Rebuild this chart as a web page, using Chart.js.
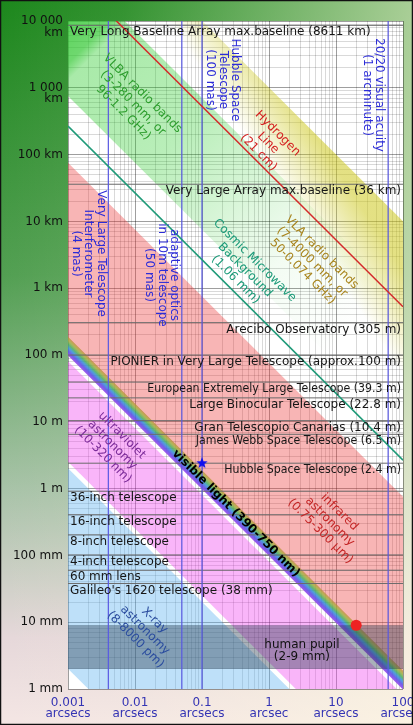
<!DOCTYPE html>
<html>
<head>
<meta charset="utf-8">
<script src="https://cdn.jsdelivr.net/npm/chart.js@4.4.1/dist/chart.umd.min.js"></script>
<style>
  html, body { margin: 0; padding: 0; background: #fff; }
  canvas { display: block; }
</style>
</head>
<body>
<canvas id="c" width="413" height="725"></canvas>
<script>
// ---- Axes: angular resolution (arcseconds) vs aperture diameter (metres) ----
const xDecades = [0.001, 0.01, 0.1, 1, 10, 100];
const xTickLabels = [['0.001', 'arcsecs'], ['0.01', 'arcsecs'], ['0.1', 'arcsecs'], ['1', 'arcsec'], ['10', 'arcsecs'], ['100', 'arcsecs']];
const yDecades = [1e-3, 1e-2, 1e-1, 1, 10, 100, 1e3, 1e4, 1e5, 1e6, 1e7];
const yTickLabels = ['1 mm', '10 mm', '100 mm', '1 m', '10 m', '100 m', '1 km', '10 km', '100 km', ['', '1 000', 'km'], ['', '10 000', 'km']];

// ---- Wavelength bands (metres) ----
const bandNames = ['VLA radio', 'VLBA radio', 'infrared', 'visible', 'ultraviolet', 'X-ray'];
const bandShort = [7e-3, 3e-3, 0.75e-6, 390e-9, 10e-9, 8e-12];
const bandLong = [4000e-3, 280e-3, 300e-6, 750e-9, 320e-9, 8000e-12];

// ---- Single wavelengths (metres) ----
const lineNames = ['Hydrogen line', 'Cosmic Microwave Background'];
const lineWavelengths = [0.21, 1.06e-3];

// ---- Instrument apertures / baselines (metres) ----
const apertureNames = [
  'Very Long Baseline Array max.baseline (8611 km)',
  'Very Large Array max.baseline (36 km)',
  'Arecibo Observatory (305 m)',
  'PIONIER in Very Large Telescope (approx.100 m)',
  'European Extremely Large Telescope (39.3 m)',
  'Large Binocular Telescope (22.8 m)',
  'Gran Telescopio Canarias (10.4 m)',
  'James Webb Space Telescope (6.5 m)',
  'Hubble Space Telescope (2.4 m)',
  '36-inch telescope',
  '16-inch telescope',
  '8-inch telescope',
  '4-inch telescope',
  '60 mm lens',
  "Galileo's 1620 telescope (38 mm)"
];
const apertureDiameters = [8611e3, 36e3, 305, 100, 39.3, 22.8, 10.4, 6.5, 2.4, 0.9144, 0.4064, 0.2032, 0.1016, 0.060, 0.038];
const apertureLeftAligned = [true, false, false, false, false, false, false, false, false, true, true, true, true, true, true];
const apertureCondensed = [false, false, false, false, true, false, false, true, true, false, false, false, false, false, false];

// ---- Angular resolutions (arcseconds) ----
const resolutionNames = [
  ['Very Large Telescope', 'Interferometer', '(4 mas)'],
  ['adaptive optics', 'in 10m telescope', '(50 mas)'],
  ['Hubble Space', 'Telescope', '(100 mas)'],
  ['20/20 visual acuity', '(1 arcminute)']
];
const resolutionValues = [0.004, 0.05, 0.1, 60];

// ---- Human pupil (metres) ----
const pupilRange = [0.002, 0.009];

// ---- Marked points: Hubble (0.1", 2.4 m), eye (20", 9 mm) ----
const hubblePoint = [{ x: 0.1, y: 2.4 }];
const eyePoint = [{ x: 20, y: 0.009 }];

// Rayleigh criterion: theta[arcsec] = 1.22 * lambda / D * 206265
const K = 1.22 * 206264.806;
const thetaMin = 0.001, thetaMax = 100;
const dMin = 1e-3, dMax = 1e7;

function edge(lambda) {
  return [{ x: thetaMin, y: K * lambda / thetaMin }, { x: thetaMax, y: K * lambda / thetaMax }];
}
function decadeTicks(lo, hi) {
  const t = [];
  for (let e = lo; e < hi; e++) for (let m = 1; m <= 9; m++) t.push({ value: m * Math.pow(10, e) });
  t.push({ value: Math.pow(10, hi) });
  return t;
}
function isDecade(v) {
  const l = Math.log10(v);
  return Math.abs(l - Math.round(l)) < 1e-6;
}
function labelFor(v, decades, labels) {
  for (let i = 0; i < decades.length; i++) {
    if (Math.abs(Math.log10(v) - Math.log10(decades[i])) < 1e-6) return labels[i];
  }
  return '';
}

// Five-point star marker
function makeStar(r, color) {
  const s = Math.ceil(r * 2 + 2);
  const c = document.createElement('canvas');
  c.width = c.height = s;
  const g = c.getContext('2d');
  g.fillStyle = color;
  g.beginPath();
  for (let i = 0; i < 10; i++) {
    const rad = i % 2 ? r * 0.42 : r;
    const a = -Math.PI / 2 + i * Math.PI / 5;
    g.lineTo(s / 2 + rad * Math.cos(a), s / 2 + rad * Math.sin(a));
  }
  g.closePath();
  g.fill();
  return c;
}

function px(chart, x, y) {
  return { x: chart.scales.x.getPixelForValue(x), y: chart.scales.y.getPixelForValue(y) };
}
function bandAngle(chart) {
  const a = px(chart, 1, 1), b = px(chart, 10, 0.1);
  return Math.atan2(b.y - a.y, b.x - a.x);
}

// ---- Fill styles for the bands ----
function vlaFill(ctx) {
  const chart = ctx.chart;
  if (!chart.chartArea) return 'rgba(0,0,0,0)';
  const p0 = px(chart, 0.93, 5.9e4), p1 = px(chart, 5.0, 1.8e5);
  const g = chart.ctx.createLinearGradient(p0.x, p0.y, p1.x, p1.y);
  g.addColorStop(0, 'rgba(205,200,30,0)');
  g.addColorStop(1, 'rgba(205,200,30,0.55)');
  return g;
}
function vlbaFill(ctx) {
  const chart = ctx.chart;
  if (!chart.chartArea) return 'rgba(0,0,0,0)';
  const p0 = px(chart, thetaMin, dMax);
  const a = bandAngle(chart);
  const L = 420;
  const g = chart.ctx.createLinearGradient(p0.x, p0.y, p0.x + L * Math.cos(a), p0.y + L * Math.sin(a));
  g.addColorStop(0, 'rgba(50,200,50,0.80)');
  g.addColorStop(30 / L, 'rgba(50,200,50,0.70)');
  g.addColorStop(42 / L, 'rgba(50,205,50,0.42)');
  g.addColorStop(160 / L, 'rgba(50,205,50,0.34)');
  g.addColorStop(320 / L, 'rgba(50,205,50,0.06)');
  g.addColorStop(1, 'rgba(50,205,50,0)');
  return g;
}
function visibleFill(ctx) {
  const chart = ctx.chart;
  if (!chart.chartArea) return 'rgba(0,0,0,0)';
  const lo = px(chart, 1, K * bandShort[3] / 1), hi = px(chart, 1, K * bandLong[3] / 1);
  const a = bandAngle(chart);
  const d = { x: Math.cos(a), y: Math.sin(a) };
  const v = { x: hi.x - lo.x, y: hi.y - lo.y };
  const dot = v.x * d.x + v.y * d.y;
  const perp = { x: v.x - dot * d.x, y: v.y - dot * d.y };
  const g = chart.ctx.createLinearGradient(lo.x, lo.y, lo.x + perp.x, lo.y + perp.y);
  g.addColorStop(0, 'rgba(160,80,235,0.95)');
  g.addColorStop(0.22, 'rgba(95,80,230,0.9)');
  g.addColorStop(0.42, 'rgba(50,140,215,0.85)');
  g.addColorStop(0.6, 'rgba(70,170,90,0.85)');
  g.addColorStop(0.8, 'rgba(160,170,60,0.85)');
  g.addColorStop(1, 'rgba(200,130,60,0.85)');
  return g;
}
const bandFills = [vlaFill, vlbaFill, 'rgba(236,60,60,0.38)', visibleFill, 'rgba(240,70,240,0.40)', 'rgba(100,180,240,0.42)'];

const lineColors = ['#d42a2a', '#1f9a78'];

// ---- Datasets ----
const datasets = [];
const hidden = 'rgba(0,0,0,0)';
datasets.push({ data: eyePoint, showLine: false, pointRadius: 5.5, pointHoverRadius: 5.5, pointBackgroundColor: '#ee2222', pointBorderWidth: 0, order: 0 });
datasets.push({ data: hubblePoint, showLine: false, pointStyle: makeStar(6, '#1010ee'), pointRadius: 6, order: 0 });
lineWavelengths.forEach((lam, i) => datasets.push({
  data: edge(lam), borderColor: lineColors[i], borderWidth: 1.5, pointRadius: 0, fill: false, order: 10
}));
resolutionValues.forEach(r => datasets.push({
  data: [{ x: r, y: dMin }, { x: r, y: dMax }], borderColor: '#5a5ae4', borderWidth: 1.2, pointRadius: 0, fill: false, order: 20
}));
apertureDiameters.forEach(d => datasets.push({
  data: [{ x: thetaMin, y: d }, { x: thetaMax, y: d }], borderColor: '#6a6a6a', borderWidth: 1, pointRadius: 0, fill: false, order: 30
}));
datasets.push({ data: [{ x: thetaMin, y: pupilRange[1] }, { x: thetaMax, y: pupilRange[1] }], borderColor: hidden, borderWidth: 0, pointRadius: 0, fill: '+1', backgroundColor: 'rgba(40,60,80,0.40)', order: 40 });
datasets.push({ data: [{ x: thetaMin, y: pupilRange[0] }, { x: thetaMax, y: pupilRange[0] }], borderColor: hidden, borderWidth: 0, pointRadius: 0, fill: false, order: 40 });
bandNames.forEach((name, i) => {
  datasets.push({ label: name, data: edge(bandLong[i]), borderColor: hidden, borderWidth: 0, pointRadius: 0, fill: '+1', backgroundColor: bandFills[i], order: 50 + i });
  datasets.push({ data: edge(bandShort[i]), borderColor: hidden, borderWidth: 0, pointRadius: 0, fill: false, order: 50 + i });
});

// ---- Page and plot background ----
const backgroundPlugin = {
  id: 'pageBackground',
  beforeDraw(chart) {
    const { ctx, width, height, chartArea: ca } = chart;
    ctx.save();
    const gv = ctx.createLinearGradient(0, 0, 0, height);
    gv.addColorStop(0, '#1c871c');
    gv.addColorStop(0.38, '#529f52');
    gv.addColorStop(0.68, '#a9c3a9');
    gv.addColorStop(0.88, '#e6d8da');
    gv.addColorStop(1, '#f4e6e4');
    ctx.fillStyle = gv;
    ctx.fillRect(0, 0, width, height);
    const gh = ctx.createLinearGradient(0, 0, width, 0);
    gh.addColorStop(0, 'rgba(255,250,225,0)');
    gh.addColorStop(0.3, 'rgba(255,250,225,0.1)');
    gh.addColorStop(1, 'rgba(255,250,225,0.62)');
    ctx.fillStyle = gh;
    ctx.fillRect(0, 0, width, height);
    ctx.fillStyle = '#ffffff';
    ctx.fillRect(ca.left, ca.top, ca.right - ca.left, ca.bottom - ca.top);
    ctx.restore();
  },
  afterDraw(chart) {
    const { ctx, width, height } = chart;
    ctx.save();
    ctx.strokeStyle = '#111';
    ctx.lineWidth = 2.5;
    ctx.strokeRect(0, 0, width, height);
    ctx.restore();
  }
};

// ---- Text annotations ----
function textBlock(ctx, lines, cx, cy, angle, lh, font, color) {
  ctx.save();
  ctx.translate(cx, cy);
  ctx.rotate(angle);
  ctx.font = font;
  ctx.fillStyle = color;
  ctx.textAlign = 'center';
  ctx.textBaseline = 'middle';
  const n = lines.length;
  lines.forEach((t, i) => ctx.fillText(t, 0, (i - (n - 1) / 2) * lh));
  ctx.restore();
}

const bandLabels = [
  { lines: ['VLBA radio bands', '(3-280 mm, or', '96-1.2 GHz)'], at: [0.0093, 5.9e5], color: '#2e9e2e' },
  { lines: ['Hydrogen', 'Line', '(21 cm)'], at: [0.97, 1.49e5], color: '#d42020' },
  { lines: ['Cosmic Microwave', 'Background', '(1.06 mm)'], at: [0.44, 1875], color: '#1a9a78' },
  { lines: ['VLA radio bands', '(7-4000 mm, or', '50-0.074 GHz)'], at: [4.4, 2466], color: '#a8841c' },
  { lines: ['ultraviolet', 'astronomy', '(10-320 nm)'], at: [0.0046, 4.5], color: '#7a2a98' },
  { lines: ['infrared', 'astronomy', '(0.75-300 \u00b5m)'], at: [8.1, 0.32], color: '#c42626' },
  { lines: ['X-ray', 'astronomy', '(8-8000 pm)'], at: [0.0141, 0.0076], color: '#2a4c9e' }
];
const resolutionLabelAt = [[0.002, 3300], [0.0253, 1577], [0.2056, 1.31e6], [35.7, 7.8e5]];

const annotationPlugin = {
  id: 'annotations',
  afterDatasetsDraw(chart) {
    const { ctx, chartArea: ca } = chart;
    const ang = bandAngle(chart);
    // aperture / baseline labels hang just below their lines
    apertureNames.forEach((name, i) => {
      const y = chart.scales.y.getPixelForValue(apertureDiameters[i]) + 7;
      const sx = apertureCondensed[i] ? 0.915 : 1;
      ctx.save();
      ctx.font = '12px "DejaVu Sans"';
      ctx.fillStyle = '#161616';
      ctx.textBaseline = 'middle';
      if (apertureLeftAligned[i]) {
        ctx.textAlign = 'left';
        ctx.translate(ca.left + 2, y);
      } else {
        ctx.textAlign = 'right';
        ctx.translate(ca.right - 2, y);
      }
      ctx.scale(sx, 1);
      ctx.fillText(name, 0, 0);
      ctx.restore();
    });
    // wavelength band labels along the diagonal
    bandLabels.forEach(b => {
      const p = px(chart, b.at[0], b.at[1]);
      textBlock(ctx, b.lines, p.x, p.y, ang, 13.5, '12px "DejaVu Sans"', b.color);
    });
    // visible light label centred on the band
    const lamMid = Math.sqrt(bandShort[3] * bandLong[3]);
    const vp = px(chart, 0.32, K * lamMid / 0.32);
    textBlock(ctx, ['visible light (390-750 nm)'], vp.x, vp.y, ang, 13, 'bold 12px "DejaVu Sans"', '#000');
    // resolution labels, rotated vertical
    resolutionNames.forEach((lines, i) => {
      const p = px(chart, resolutionLabelAt[i][0], resolutionLabelAt[i][1]);
      textBlock(ctx, lines, p.x, p.y, Math.PI / 2, 12.5, '12px "DejaVu Sans"', '#2c2cd8');
    });
    // human pupil
    const hp = px(chart, 3.1, 0.0037);
    textBlock(ctx, ['human pupil', '(2-9 mm)'], hp.x, hp.y, 0, 12, '12px "DejaVu Sans"', '#111');
  }
};

const gridColor = c => (c.tick && isDecade(c.tick.value)) ? 'rgba(0,0,0,0.38)' : 'rgba(0,0,0,0.15)';

new Chart(document.getElementById('c'), {
  type: 'line',
  data: { datasets },
  options: {
    responsive: false,
    animation: false,
    devicePixelRatio: 1,
    layout: { padding: { top: 21, right: 10, left: 0, bottom: 0 } },
    plugins: { legend: { display: false }, tooltip: { enabled: false } },
    elements: { line: { tension: 0 } },
    scales: {
      x: {
        type: 'logarithmic', min: thetaMin, max: thetaMax,
        afterBuildTicks: s => { s.ticks = decadeTicks(-3, 2); },
        afterFit: s => { s.height = 36; s.paddingLeft = 0; s.paddingRight = 0; },
        grid: { color: gridColor, lineWidth: 1, drawTicks: false },
        border: { display: false },
        ticks: {
          autoSkip: false, maxRotation: 0, minRotation: 0, padding: 8, color: '#3434b4',
          font: { family: 'DejaVu Sans', size: 12, lineHeight: 0.95 },
          callback: v => labelFor(v, xDecades, xTickLabels)
        }
      },
      y: {
        type: 'logarithmic', min: dMin, max: dMax,
        afterBuildTicks: s => { s.ticks = decadeTicks(-3, 7); },
        afterFit: s => { s.width = 68; s.paddingTop = 0; s.paddingBottom = 0; },
        grid: { color: gridColor, lineWidth: 1, drawTicks: false },
        border: { display: false },
        ticks: {
          autoSkip: false, padding: 5, color: '#111',
          font: { family: 'DejaVu Sans', size: 12, lineHeight: 0.95 },
          callback: v => labelFor(v, yDecades, yTickLabels)
        }
      }
    }
  },
  plugins: [backgroundPlugin, annotationPlugin]
});
</script>
</body>
</html>
